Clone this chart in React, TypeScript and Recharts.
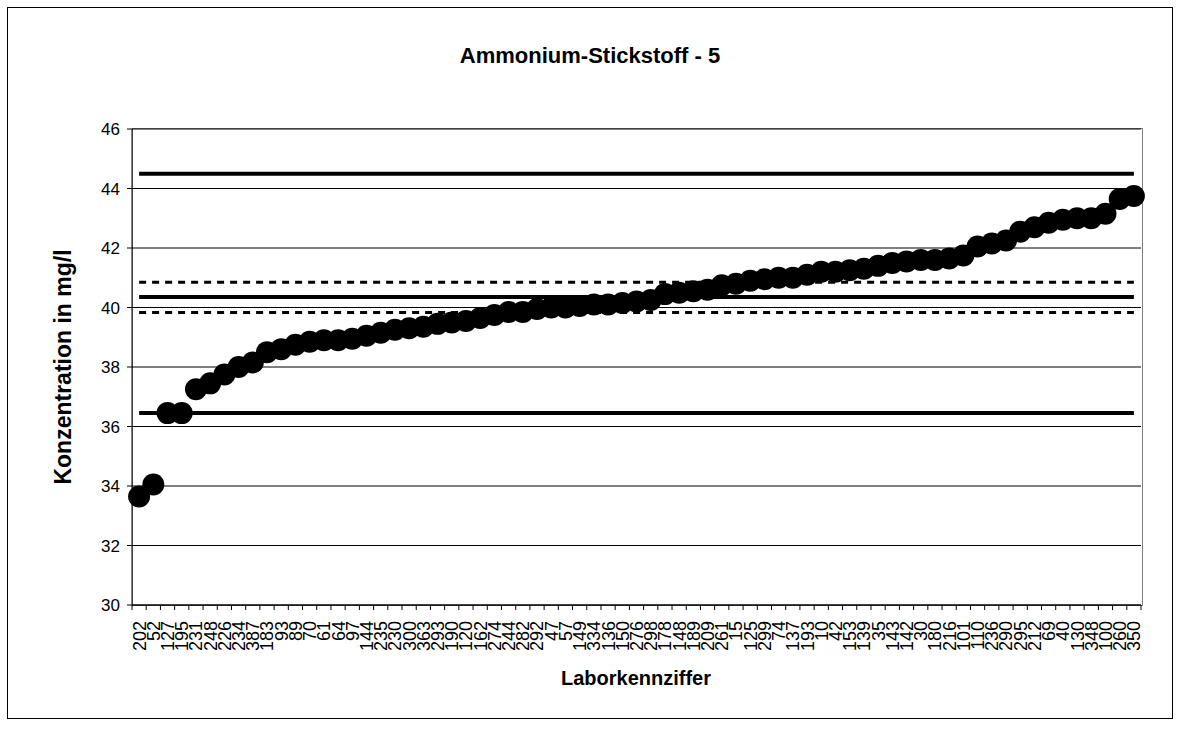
import React from "react";
import {
  ComposedChart,
  CartesianGrid,
  XAxis,
  YAxis,
  Line,
} from "recharts";

const labCodes = [
  "202", "52", "127", "195", "231", "248", "226", "234", "387", "183",
  "93", "89", "70", "61", "64", "97", "144", "235", "230", "300",
  "363", "293", "190", "120", "162", "274", "244", "282", "292", "47",
  "57", "149", "334", "136", "150", "276", "298", "178", "148", "189",
  "209", "261", "15", "125", "299", "74", "137", "193", "10", "42",
  "153", "139", "35", "143", "142", "30", "180", "216", "101", "110",
  "236", "290", "295", "212", "69", "40", "130", "348", "100", "260",
  "350",
];

const concentrations = [
  33.65, 34.05, 36.45, 36.45, 37.25, 37.45, 37.75, 38.0, 38.15, 38.5,
  38.6, 38.75, 38.85, 38.9, 38.9, 38.95, 39.05, 39.15, 39.25, 39.3,
  39.35, 39.45, 39.5, 39.55, 39.65, 39.75, 39.85, 39.85, 39.95, 40.0,
  40.0, 40.05, 40.1, 40.1, 40.15, 40.2, 40.25, 40.45, 40.5, 40.55,
  40.6, 40.75, 40.8, 40.9, 40.95, 41.0, 41.0, 41.1, 41.2, 41.2,
  41.25, 41.3, 41.4, 41.5, 41.55, 41.6, 41.6, 41.65, 41.75, 42.05,
  42.15, 42.25, 42.55, 42.7, 42.85, 42.95, 43.0, 43.0, 43.15, 43.65,
  43.75,
];

// Grenzwerte / Toleranzbereich
const upperLimit = 44.5;
const upperTolerance = 40.85;
const assignedValue = 40.35;
const lowerTolerance = 39.83;
const lowerLimit = 36.45;

const yTicks = [30, 32, 34, 36, 38, 40, 42, 44, 46];

const data = labCodes.map((lab, i) => ({
  lab,
  value: concentrations[i],
  upper: upperLimit,
  tolHi: upperTolerance,
  mean: assignedValue,
  tolLo: lowerTolerance,
  lower: lowerLimit,
}));

const FONT = "'Liberation Sans', Arial, sans-serif";
const PLOT_LEFT = 132;
const PLOT_TOP = 129;
const PLOT_W = 1009;
const PLOT_H = 476;
const BAND = PLOT_W / labCodes.length;

const XTick = ({ x, y, payload, index }: any) => {
  const isLast = index === labCodes.length - 1;
  return (
    <g>
      <line x1={x - BAND / 2} x2={x - BAND / 2} y1={y} y2={y + 5} stroke="#000" />
      {isLast && (
        <line x1={x + BAND / 2} x2={x + BAND / 2} y1={y} y2={y + 5} stroke="#000" />
      )}
      <text
        x={x}
        y={y + 16}
        dy="0.36em"
        transform={`rotate(-90, ${x}, ${y + 16})`}
        textAnchor="end"
        fontSize={18}
        fontFamily={FONT}
        fill="#000"
      >
        {payload.value}
      </text>
    </g>
  );
};

export default function App() {
  return (
    <div style={{ position: "absolute", left: 0, top: 0, width: 1180, height: 733, background: "#fff" }}>
      {/* Diagrammrahmen */}
      <div
        style={{
          position: "absolute",
          left: 7,
          top: 7,
          width: 1164,
          height: 710,
          border: "1px solid #000",
        }}
      />
      {/* Rahmen der Zeichenfläche */}
      <div
        style={{
          position: "absolute",
          left: PLOT_LEFT,
          top: PLOT_TOP - 1,
          width: PLOT_W,
          height: PLOT_H,
          border: "1px solid #808080",
        }}
      />
      <div
        style={{
          position: "absolute",
          left: 0,
          top: 43,
          width: 1180,
          textAlign: "center",
          fontFamily: FONT,
          fontWeight: "bold",
          fontSize: 22,
        }}
      >
        Ammonium-Stickstoff - 5
      </div>
      <div
        style={{
          position: "absolute",
          left: 0,
          top: 667,
          width: 1272,
          textAlign: "center",
          fontFamily: FONT,
          fontWeight: "bold",
          fontSize: 20,
        }}
      >
        Laborkennziffer
      </div>
      <div
        style={{
          position: "absolute",
          left: 63 - 200,
          top: 367 - 15,
          width: 400,
          height: 30,
          lineHeight: "30px",
          textAlign: "center",
          transform: "rotate(-90deg)",
          fontFamily: FONT,
          fontWeight: "bold",
          fontSize: 23,
        }}
      >
        Konzentration in mg/l
      </div>
      <div style={{ position: "absolute", left: 0, top: 0 }}>
        <ComposedChart
          width={1180}
          height={733}
          data={data}
          margin={{ top: PLOT_TOP, right: 1180 - PLOT_LEFT - PLOT_W, bottom: 0, left: 0 }}
        >
          <CartesianGrid vertical={false} stroke="#000" strokeWidth={1} />
          <XAxis
            dataKey="lab"
            scale="band"
            interval={0}
            height={733 - PLOT_TOP - PLOT_H}
            tickLine={false}
            tickSize={0}
            tickMargin={0}
            axisLine={{ stroke: "#000" }}
            tick={<XTick />}
          />
          <YAxis
            width={PLOT_LEFT}
            domain={[30, 46]}
            ticks={yTicks}
            interval={0}
            allowDataOverflow
            tickSize={5}
            tickMargin={7}
            axisLine={{ stroke: "#000" }}
            tickLine={{ stroke: "#000" }}
            tick={{ fill: "#000", fontSize: 17, fontFamily: FONT }}
          />
          <Line dataKey="upper" stroke="#000" strokeWidth={4} dot={false} isAnimationActive={false} />
          <Line dataKey="lower" stroke="#000" strokeWidth={4} dot={false} isAnimationActive={false} />
          <Line dataKey="mean" stroke="#000" strokeWidth={4} dot={false} isAnimationActive={false} />
          <Line dataKey="tolHi" stroke="#000" strokeWidth={3} strokeDasharray="7 6" dot={false} isAnimationActive={false} />
          <Line dataKey="tolLo" stroke="#000" strokeWidth={3} strokeDasharray="7 6" dot={false} isAnimationActive={false} />
          <Line
            dataKey="value"
            stroke="none"
            dot={{ r: 11, fill: "#000", stroke: "none" }}
            isAnimationActive={false}
          />
        </ComposedChart>
      </div>
    </div>
  );
}
